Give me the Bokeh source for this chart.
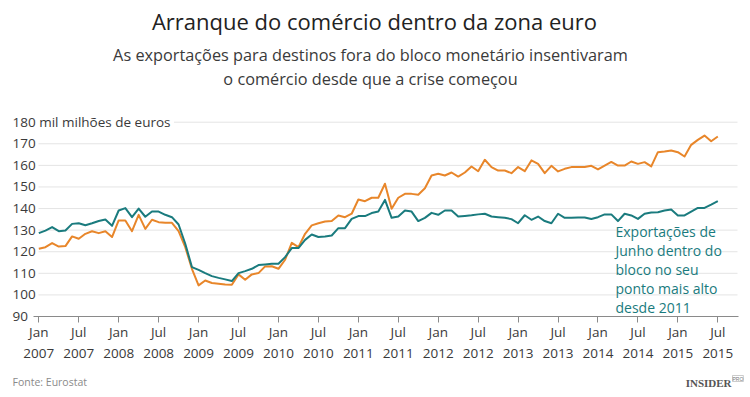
from bokeh.plotting import figure
from bokeh.models import FixedTicker, Label, LabelSet, ColumnDataSource, Range1d
from bokeh.core.properties import value
from bokeh.embed import file_html
from bokeh.resources import INLINE

# ---- data (months since Jan 2007, billions of euros) ----
months = list(range(103))
extra_euro = [
    121.4, 122.1, 124.0, 122.4, 122.6, 127.1, 126.0, 128.3, 129.5, 128.6, 129.5, 126.8,
    134.5, 134.5, 129.5, 137.1, 130.6, 134.8, 133.7, 133.4, 133.4, 129.5, 122.1, 112.1,
    104.4, 106.7, 105.5, 105.2, 104.8, 104.7, 109.5, 107.0, 109.5, 110.1, 113.2, 113.3,
    112.1, 116.3, 124.1, 122.1, 128.3, 132.2, 133.2, 134.0, 134.2, 136.8, 136.0, 137.6,
    144.2, 143.4, 145.0, 145.0, 151.5, 139.9, 145.0, 146.8, 146.8, 146.4, 149.4, 155.3,
    156.1, 155.3, 156.7, 154.8, 156.7, 159.5, 157.3, 162.6, 159.2, 157.6, 157.6, 156.4,
    159.2, 157.3, 162.3, 160.7, 156.4, 159.8, 157.2, 158.4, 159.2, 159.2, 159.2, 159.8,
    158.1, 159.9, 161.6, 159.9, 159.9, 161.8, 160.7, 161.5, 159.5, 166.1, 166.4, 166.9,
    166.1, 164.1, 169.5, 171.8, 173.8, 171.2, 173.4,
]
intra_euro = [
    128.6, 129.8, 131.4, 129.5, 129.8, 132.9, 133.2, 132.3, 133.2, 134.2, 134.9, 132.0,
    139.1, 140.2, 136.0, 140.0, 136.2, 138.6, 138.6, 137.1, 136.0, 132.6, 123.7, 112.9,
    111.6, 110.1, 108.7, 107.9, 107.2, 106.4, 110.1, 111.0, 112.1, 113.8, 114.1, 114.4,
    114.4, 117.5, 121.7, 121.7, 125.5, 128.0, 126.8, 127.1, 127.5, 130.9, 130.9, 135.2,
    136.5, 136.5, 137.9, 138.6, 144.0, 135.7, 136.3, 139.1, 138.6, 134.2, 135.7, 138.0,
    137.1, 139.1, 139.1, 136.3, 136.6, 136.9, 137.3, 137.6, 136.3, 136.0, 135.7, 135.1,
    133.2, 136.9, 134.8, 136.3, 134.2, 133.2, 137.6, 135.7, 135.7, 135.9, 135.9, 135.2,
    136.0, 137.3, 137.3, 134.2, 137.6, 136.8, 135.2, 137.6, 138.2, 138.3, 139.1, 139.6,
    136.8, 136.8, 138.6, 140.3, 140.3, 141.8, 143.4,
]
x_ticks = list(range(0, 103, 6))
x_tick_labels = [
    "Jan\n2007", "Jul\n2007", "Jan\n2008", "Jul\n2008", "Jan\n2009", "Jul\n2009",
    "Jan\n2010", "Jul\n2010", "Jan\n2011", "Jul\n2011", "Jan\n2012", "Jul\n2012",
    "Jan\n2013", "Jul\n2013", "Jan\n2014", "Jul\n2014", "Jan\n2015", "Jul\n2015",
]
y_ticks = [90, 100, 110, 120, 130, 140, 150, 160, 170, 180]
y_tick_labels = ["90", "100", "110", "120", "130", "140", "150", "160", "170",
                 "180 mil milhões de euros "]

title_text = "Arranque do comércio dentro da zona euro"
subtitle_1 = "As exportações para destinos fora do bloco monetário insentivaram"
subtitle_2 = "o comércio desde que a crise começou"
note_text = "Exportações de\nJunho dentro do\nbloco no seu\nponto mais alto\ndesde 2011"
source_text = "Fonte: Eurostat"

# ---- style / layout (canvas pixels) ----
ORANGE = "#e8862a"
TEAL = "#1a7b7e"
FONT = "Open Sans"
W, H = 750, 397
PX_MONTH = 6.657          # horizontal pixels per month
PX_UNIT = 2.159           # vertical pixels per billion
X_ORIGIN = 38.3           # canvas x of Jan 2007
Y_BASE = 316.0            # canvas y of value 90
X0 = -X_ORIGIN / PX_MONTH
X1 = X0 + W / PX_MONTH
Y0 = 90 - (H - Y_BASE) / PX_UNIT
Y1 = Y0 + H / PX_UNIT


def dx(cx):
    return X0 + cx / PX_MONTH


def dy(cy):
    return Y1 - cy / PX_UNIT


p = figure(width=W, height=H, output_backend="svg", toolbar_location=None,
           x_range=Range1d(X0, X1), y_range=Range1d(Y0, Y1),
           min_border=0, min_border_left=0, min_border_right=0,
           min_border_top=0, min_border_bottom=0,
           background_fill_color="white", border_fill_color="white")
if p.title is not None:
    p.title.visible = False
p.outline_line_color = None

p.yaxis.visible = False
p.xgrid.visible = False
p.ygrid.visible = False

# horizontal grid lines
p.segment(x0=dx(38), x1=dx(737), y0=y_ticks[1:], y1=y_ticks[1:],
          line_color="#e4e4e4", line_width=1)

# x axis fixed at the 90 baseline
xa = p.xaxis[0]
xa.fixed_location = 90
xa.bounds = (dx(33), dx(738))
xa.ticker = FixedTicker(ticks=x_ticks)
xa.major_label_overrides = {t: s for t, s in zip(x_ticks, x_tick_labels)}
xa.minor_tick_line_color = None
xa.major_tick_in = 0
xa.major_tick_out = 6
xa.major_tick_line_color = "#8a8a8a"
xa.axis_line_color = "#8a8a8a"
xa.major_label_standoff = 0
xa.major_label_text_font = FONT
xa.major_label_text_font_size = "13.5px"
xa.major_label_text_color = "#3a3a3a"

# lines
p.line(months, extra_euro, line_color=ORANGE, line_width=2, line_join="round")
p.line(months, intra_euro, line_color=TEAL, line_width=2, line_join="round")

# y tick labels (left aligned)
ysrc = ColumnDataSource(dict(y=y_ticks, text=y_tick_labels))
p.add_layout(LabelSet(x=dx(12), y="y", text="text", source=ysrc,
                      text_align="left", text_baseline="middle",
                      text_font=value(FONT), text_font_size=value("13.5px"),
                      text_color="#3a3a3a", background_fill_color="white"))

# titles
p.add_layout(Label(x=dx(374), y=dy(20), text=title_text, text_align="center",
                   text_baseline="middle", text_font=FONT,
                   text_font_size="22px", text_color="#222222"))
p.add_layout(Label(x=dx(370), y=dy(54), text=subtitle_1, text_align="center",
                   text_baseline="middle", text_font=FONT,
                   text_font_size="16.3px", text_color="#3a3a3a"))
p.add_layout(Label(x=dx(370), y=dy(78), text=subtitle_2, text_align="center",
                   text_baseline="middle", text_font=FONT,
                   text_font_size="16.3px", text_color="#3a3a3a"))

# annotation
p.add_layout(Label(x=dx(615), y=dy(221.5), text=note_text, text_align="left",
                   text_baseline="top", text_font=FONT, text_font_size="14px",
                   text_line_height=1.0, text_color=TEAL))

# footer
p.add_layout(Label(x=dx(12), y=dy(381), text=source_text, text_align="left",
                   text_baseline="middle", text_font=FONT,
                   text_font_size="10.5px", text_color="#8a8a8a"))
p.add_layout(Label(x=dx(731), y=dy(382), text="INSIDER", text_align="right",
                   text_baseline="middle", text_font="Liberation Serif",
                   text_font_style="bold", text_font_size="11px",
                   text_color="#555555"))
p.add_layout(Label(x=dx(732), y=dy(378), text="PRO", text_align="left",
                   text_baseline="middle", text_font="Liberation Sans",
                   text_font_size="5px", text_color="#777777",
                   border_line_color="#999999", border_line_width=0.5))

open("out.html", "w").write(file_html(p, INLINE))
